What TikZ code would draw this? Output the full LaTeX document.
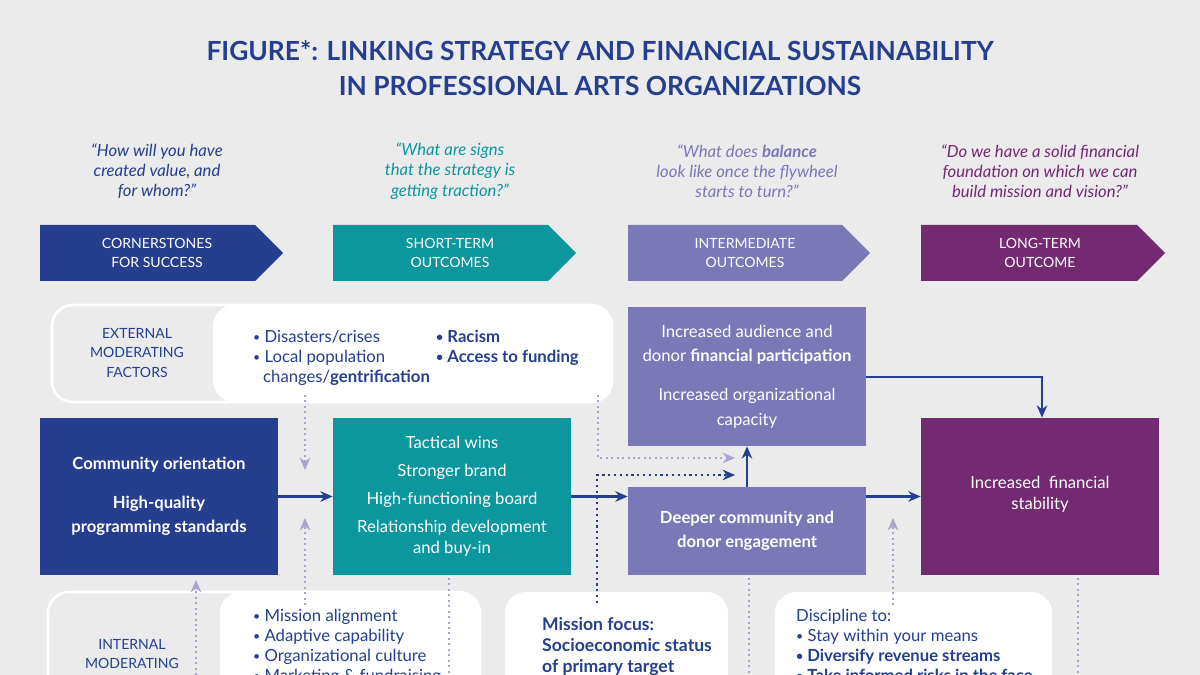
\documentclass[tikz,border=0pt]{standalone}
\usepackage{fontspec}
\setmainfont{Lato}
\usetikzlibrary{arrows.meta}
\definecolor{bg}{HTML}{ECEBEC}
\definecolor{navy}{HTML}{253F8E}
\definecolor{teal}{HTML}{0C979E}
\definecolor{lav}{HTML}{7B78B8}
\definecolor{purp}{HTML}{732A72}
\definecolor{ltarrow}{HTML}{A9A3CF}
\newcommand{\bul}{{\scriptsize\raisebox{0.2ex}{•}}\ }
\begin{document}
\begin{tikzpicture}[x=0.02cm,y=-0.02cm,
  box/.style={draw=none,minimum width=238*0.02cm,align=center,text=white,font=\fontsize{9.5}{14}\selectfont},
  banner/.style={text=white,font=\fontsize{8}{11}\selectfont,align=center},
  quote/.style={font=\fontsize{9.5}{11.5}\selectfont\itshape,align=center},
  solid arr/.style={navy,line width=1.4pt,-{Stealth[length=7pt,width=6pt]}},
  light dot/.style={ltarrow,line width=1.1pt,dotted,-{Stealth[length=7pt,width=6pt]}},
  dark dot/.style={navy,line width=1.3pt,dotted,-{Stealth[length=7pt,width=6pt]}},
  plain dot/.style={ltarrow,line width=1.1pt,dotted},
  lab/.style={text=navy,font=\fontsize{8}{11}\selectfont,align=center},
  btxt/.style={text=navy,font=\fontsize{9.5}{11.4}\selectfont,align=left,anchor=north west}
]
\useasboundingbox (0,0) rectangle (1200,675);
\clip (0,0) rectangle (1200,675);
\fill[bg] (0,0) rectangle (1200,675);
% title
\node[text=navy,font=\fontsize{15}{20}\bfseries\selectfont,align=center] (title) at (600,68) {FIGURE*: LINKING STRATEGY AND FINANCIAL SUSTAINABILITY\\IN PROFESSIONAL ARTS ORGANIZATIONS};
% quotes
\node[quote,text=navy] (q1) at (157,171) {“How will you have\\created value, and\\for whom?”};
\node[quote,text=teal] (q2) at (450,171) {“What are signs\\that the strategy is\\getting traction?”};
\node[quote,text=lav] (q3) at (747,171) {“What does \textbf{balance}\\look like once the flywheel\\starts to turn?”};
\node[quote,text=purp] (q4) at (1040,171) {“Do we have a solid financial\\foundation on which we can\\build mission and vision?”};
% banners
\fill[navy] (40,225) -- (255,225) -- (283,253) -- (255,281) -- (40,281) -- cycle;
\fill[teal] (333,225) -- (548,225) -- (576,253) -- (548,281) -- (333,281) -- cycle;
\fill[lav] (628,225) -- (842,225) -- (870,253) -- (842,281) -- (628,281) -- cycle;
\fill[purp] (921,225) -- (1137,225) -- (1165,253) -- (1137,281) -- (921,281) -- cycle;
\node[banner] (b1) at (157,253) {CORNERSTONES\\FOR SUCCESS};
\node[banner] (b2) at (450,253) {SHORT-TERM\\OUTCOMES};
\node[banner] (b3) at (745,253) {INTERMEDIATE\\OUTCOMES};
\node[banner] (b4) at (1040,253) {LONG-TERM\\OUTCOME};
% external factors
\draw[white,line width=1.5pt,fill=bg,rounded corners=12pt] (52,305) rectangle (612,402);
\fill[white,rounded corners=12pt] (213,305) rectangle (612,402);
\node[lab] (ext) at (137,353) {EXTERNAL\\MODERATING\\FACTORS};
\node[btxt] (e1) at (247,324) {\bul Disasters/crises\\\bul Local population\\\hspace*{0.6em}changes/\textbf{gentrification}};
\node[btxt,font=\fontsize{9.5}{11.4}\bfseries\selectfont] (e2) at (430,324) {\bul Racism\\\bul Access to funding};
% main boxes
\node[box,fill=navy,minimum height=157*0.02cm,font=\fontsize{9.5}{14}\bfseries\selectfont] (n1) at (159,496.5) {Community orientation\\[8pt]High-quality\\programming standards};
\node[box,fill=teal,minimum height=157*0.02cm,font=\fontsize{9.5}{12}\selectfont] (n2) at (452,496.5) {Tactical wins\\[4pt]Stronger brand\\[4pt]High-functioning board\\[4pt]Relationship development\\and buy-in};
\node[box,fill=lav,minimum height=139*0.02cm] (n3) at (747,376.5) {Increased audience and\\donor \textbf{financial participation}\\[8pt]Increased organizational\\capacity};
\node[box,fill=lav,minimum height=88*0.02cm,font=\fontsize{9.5}{14}\bfseries\selectfont] (n4) at (747,531) {Deeper community and\\donor engagement};
\node[box,fill=purp,minimum height=157*0.02cm,text depth=0pt] (n5) at (1040,496.5) {};
\node[text=white,font=\fontsize{9.5}{12}\selectfont,align=center] (n5t) at (1040,494) {Increased\ \ financial\\stability};
% bottom boxes
\draw[white,line width=1.5pt,fill=bg,rounded corners=12pt] (48,592) rectangle (480,720);
\fill[white,rounded corners=12pt] (220,592) rectangle (480,720);
\fill[white,rounded corners=12pt] (505,592) rectangle (728,720);
\fill[white,rounded corners=12pt] (775,592) rectangle (1052,720);
\node[lab,anchor=north] (int) at (132,633) {INTERNAL\\MODERATING};
\node[btxt] (i1) at (247,603) {\bul Mission alignment\\\bul Adaptive capability\\\bul Organizational culture\\\bul Marketing \& fundraising};
\node[btxt,font=\fontsize{10}{12}\bfseries\selectfont] (m1) at (536,611) {Mission focus:\\Socioeconomic status\\of primary target\\audience segments};
\node[btxt] (d1) at (790,603) {Discipline to:\\\bul Stay within your means\\\textbf{\bul Diversify revenue streams}\\\textbf{\bul Take informed risks in the face}};
% solid arrows
\draw[solid arr] (n1.east) -- (n2.west);
\draw[solid arr] (n2.east) -- (n2.east -| n4.west);
\draw[solid arr] (n4.east |- n5.west) -- (n5.west);
\draw[solid arr] (n4.north) -- (n3.south);
\draw[solid arr] (n3.east |- 0,377) -- (1042,377) -- (n5.north -| 1042,0);
% dotted
\coordinate (t1) at (735,458);
\coordinate (t2) at (735,475);
\draw[light dot] (305,395) -- (305,470);
\draw[light dot] (305,605) -- (305,518);
\draw[light dot] (196,675) -- (196,580);
\draw[light dot] (598,395) -- (598,458) -- (t1);
\draw[dark dot] (597,603) -- (597,475) -- (t2);
\draw[light dot] (893,605) -- (893,518);
\draw[plain dot] (449,578) -- (449,675);
\draw[plain dot] (749,578) -- (749,675);
\draw[plain dot] (1078,578) -- (1078,675);
\end{tikzpicture}
\end{document}
